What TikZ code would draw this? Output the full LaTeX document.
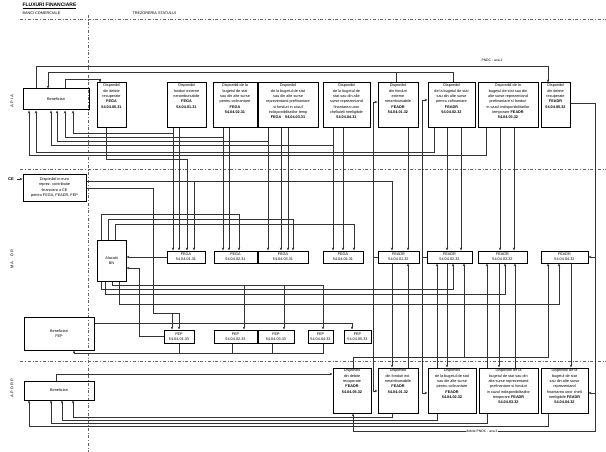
\documentclass[tikz,border=0pt]{standalone}
\usepackage{fontspec}
\setmainfont{Liberation Sans}
\usetikzlibrary{arrows.meta,calc}

\tikzset{
  cont/.style={draw,line width=1pt,inner sep=0pt},
  mic/.style={font=\fontsize{3.8}{5.3}\selectfont,align=center,inner sep=1.5pt},
  cod/.style={font=\fontsize{3.8}{4.8}\selectfont,align=center},
  flux/.style={line width=.6pt,black!80},
  sep/.style={line width=.5pt,black!60,dash dot},
}

\begin{document}
\begin{tikzpicture}[x=1pt,y=-1pt,>={Stealth[length=3pt,width=2.4pt]}]
\useasboundingbox (0,0) rectangle (606,452);

% titluri
\node[anchor=west,font=\fontsize{5}{6}\selectfont\bfseries] (tit) at (19,6) {\underline{FLUXURI FINANCIARE}};
\node[anchor=west,font=\fontsize{3.8}{5}\selectfont] (bc) at (19,13) {BANCI COMERCIALE};
\node[anchor=west,font=\fontsize{3.8}{5}\selectfont] (ts) at (129,13) {TREZORERIA STATULUI};
\draw[sep] (20,19) -- (606,19);
\draw[sep] (88,15) -- (88,452);
\draw[sep] (20,169) -- (606,169);
\draw[sep] (20,361) -- (606,361);
\node[rotate=90,font=\fontsize{4}{5}\selectfont\bfseries,black!70] (lapia) at (12,101) {A P I A};
\node[rotate=90,font=\fontsize{4}{5}\selectfont\bfseries,black!70] (lmadr) at (12,259) {M A \quad D R};
\node[rotate=90,font=\fontsize{4}{5}\selectfont\bfseries,black!70] (lapdrp) at (12,388) {A P D R P};

% APIA
\node[cont,minimum width=66,minimum height=21,mic] (ben1) at (56,99.5) {Beneficiari};
\node[cont,minimum width=29,minimum height=45] (a1) at (111.5,105.5) {};
\node[mic,below] at (a1.north) {Disponibil\\din debite\\recuperate\\\textbf{FEGA}\\\textbf{54.04.05.31}};
\node[cont,minimum width=39,minimum height=45] (a2) at (186.5,105.5) {};
\node[mic,below] at (a2.north) {Disponibil\\fonduri externe\\nerambursabile\\\textbf{FEGA}\\\textbf{54.04.01.31}};
\node[cont,minimum width=44,minimum height=45] (a3) at (235,105.5) {};
\node[mic,below] at (a3.north) {Disponibil de la\\bugetul de stat\\sau din alte surse\\pentru cofinantare\\\textbf{FEGA}\\\textbf{54.04.02.31}};
\node[cont,minimum width=60,minimum height=45] (a4) at (288,105.5) {};
\node[mic,below] at (a4.north) {Disponibil\\de la bugetul de stat\\sau din alte surse\\reprezentand prefinantare\\si fonduri in cazul\\indisponibilitatilor temp\\\textbf{FEGA}\quad\textbf{54.04.03.31}};
\node[cont,minimum width=47,minimum height=45] (a5) at (346.5,105.5) {};
\node[mic,below] at (a5.north) {Disponibil\\de la bugetul de\\stat sau din alte\\surse reprezentand\\finantarea unor\\cheltuieli neeligibile\\\textbf{54.04.04.31}};
\node[cont,minimum width=40,minimum height=45] (a6) at (398,105.5) {};
\node[mic,below] at (a6.north) {Disponibil\\din fonduri\\externe\\nerambursabile\\\textbf{FEADR}\\\textbf{54.04.01.32}};
\node[cont,minimum width=47,minimum height=45] (a7) at (451.5,105.5) {};
\node[mic,below] at (a7.north) {Disponibil\\de la bugetul de stat\\sau din alte surse\\pentru cofinantare\\\textbf{FEADR}\\\textbf{54.04.02.32}};
\node[cont,minimum width=60,minimum height=45] (a8) at (508,105.5) {};
\node[mic,below] at (a8.north) {Disponibil de la\\bugetul de stat sau din\\alte surse reprezentand\\prefinantare si fonduri\\in cazul indisponibilitatilor\\temporare \textbf{FEADR}\\\textbf{54.04.03.32}};
\node[cont,minimum width=29,minimum height=45] (a9) at (555.5,105.5) {};
\node[mic,below] at (a9.north) {Disponibil\\din debite\\recuperate\\\textbf{FEADR}\\\textbf{54.04.05.32}};

% MADR
\node[font=\fontsize{4}{5}\selectfont\bfseries] (ce) at (11,179) {CE};
\node[cont,minimum width=63,minimum height=27,mic] (disp) at (54.5,187.5) {Disponibil in euro\\reprez. contributie\\financiara a CE\\pentru FEGA, FEADR, FEP};
\node[cont,minimum width=29,minimum height=41,mic] (bn) at (111.5,260.5) {Alocatii\\BN};
\node[cont,minimum width=38,minimum height=12,cod] (g1) at (186,257) {FEGA\\54.04.01.31};
\node[cont,minimum width=43,minimum height=12,cod] (g2) at (235.5,257) {FEGA\\54.04.02.31};
\node[cont,minimum width=50,minimum height=12,cod] (g3) at (283,257) {FEGA\\54.04.03.31};
\node[cont,minimum width=40,minimum height=12,cod] (g4) at (343,257) {FEGA\\54.04.04.31};
\node[cont,minimum width=41,minimum height=12,cod] (f1) at (398.5,257) {FEADR\\54.04.01.32};
\node[cont,minimum width=45,minimum height=12,cod] (f2) at (449.5,257) {FEADR\\54.04.02.32};
\node[cont,minimum width=49,minimum height=12,cod] (f3) at (502.5,257) {FEADR\\54.04.03.32};
\node[cont,minimum width=47,minimum height=12,cod] (f4) at (564.5,257) {FEADR\\54.04.04.32};

% FEP
\node[cont,minimum width=70,minimum height=33,mic] (benfep) at (59,333.5) {Beneficiari\\FEP};
\node[cont,minimum width=30,minimum height=13,cod] (p1f) at (179,336.5) {FEP\\54.04.01.33};
\node[cont,minimum width=43,minimum height=13,cod] (p2f) at (235.5,336.5) {FEP\\54.04.02.33};
\node[cont,minimum width=36,minimum height=13,cod] (p3f) at (276,336.5) {FEP\\54.04.03.33};
\node[cont,minimum width=25,minimum height=13,cod] (p4f) at (320.5,336.5) {FEP\\54.04.04.33};
\node[cont,minimum width=27,minimum height=13,cod] (p5f) at (357.5,336.5) {FEP\\54.04.05.33};

% APDRP
\node[cont,minimum width=70,minimum height=19,mic] (ben3) at (59,390.5) {Beneficiari};
\node[cont,minimum width=38,minimum height=45] (d1) at (352,390.5) {};
\node[mic,below] at (d1.north) {Disponibil\\din debite\\recuperate\\\textbf{FEADR}\\\textbf{54.04.05.32}};
\node[cont,minimum width=40,minimum height=45] (d2) at (398,390.5) {};
\node[mic,below] at (d2.north) {Disponibil\\din fonduri ext.\\nerambursabile\\\textbf{FEADR}\\\textbf{54.04.01.32}};
\node[cont,minimum width=48,minimum height=45] (d3) at (452,390.5) {};
\node[mic,below] at (d3.north) {Disponibil\\de la bugetul de stat\\sau din alte surse\\pentru cofinantare\\\textbf{FEADR}\\\textbf{54.04.02.32}};
\node[cont,minimum width=59,minimum height=45] (d4) at (508.5,390.5) {};
\node[mic,below] at (d4.north) {Disponibil de la\\bugetul de stat sau din\\alte surse reprezentand\\prefinantare si fonduri\\in cazul indisponibilitatilor\\temporare \textbf{FEADR}\\\textbf{54.04.03.32}};
\node[cont,minimum width=47,minimum height=45] (d5) at (564.5,390.5) {};
\node[mic,below] at (d5.north) {Disponibil de la\\bugetul de stat\\sau din alte surse\\reprezentand\\finantarea unor chelt\\neeligibile \textbf{FEADR}\\\textbf{54.04.04.32}};

% fluxuri APIA
\draw[flux,->] (ben1.north -| 36,0) |- (548,66) -- (a9.north -| 548,0);
\node[font=\fontsize{3.4}{4}\selectfont] (pndc) at (492,60) {PNDC - axa 2};
\draw[flux,->] (a7.north -| 453,0) |- (48,72) -- (ben1.north -| 48,0);
\draw[flux] (a6.north -| 396,0) -- (396,72);
\draw[flux,->] (ben1.north -| 65,0) |- (100,79) -- (a1.north -| 100,0);
\draw[flux,->] (a2.south -| 173,0) -- (g1.north -| 173,0);
\draw[flux,->] (a2.south -| 179,0) -- (g1.north -| 179,0);
\draw[flux,->] (a3.south -| 223,0) -- (g2.north -| 223,0);
\draw[flux,->] (a3.south -| 229,0) -- (g2.north -| 229,0);
\draw[flux,->] (a4.south -| 268,0) -- (g3.north -| 268,0);
\draw[flux,->] (a4.south -| 281,0) -- (g3.north -| 281,0);
\draw[flux,->] (a4.south -| 288,0) -- (g3.north -| 288,0);
\draw[flux,->] (a5.south -| 333,0) -- (g4.north -| 333,0);
\draw[flux,->] (a5.south -| 343,0) -- (g4.north -| 343,0);
\draw[flux,->] (a6.south -| 408,0) -- (f1.north -| 408,0);
\draw[flux,->] (a7.south -| 447,0) -- (f2.north -| 447,0);
\draw[flux,->] (a7.south -| 461,0) -- (f2.north -| 461,0);
\draw[flux,->] (a8.south -| 500,0) -- (f3.north -| 500,0);
\draw[flux,->] (a8.south -| 514,0) -- (f3.north -| 514,0);
\draw[flux,->] (a2.south -| 173,0) ++(0,5) -| (ben1.south -| 73,0);
\draw[flux,->] (a3.south -| 223,0) ++(0,9) -| (ben1.south -| 65,0);
\draw[flux,->] (a4.south -| 268,0) ++(0,13) -| (ben1.south -| 57,0);
\draw[flux,->] (a5.south -| 333,0) ++(0,17) -| (ben1.south -| 51,0);
\draw[flux,->] (a7.south -| 434,0) -- ++(0,24) -| (ben1.south -| 36,0);
\draw[flux,->] (a8.south -| 486,0) -- ++(0,27) -| (ben1.south -| 29,0);
\draw[flux,->] (a1.south -| 106,0) |- (187,159) -- (g1.north -| 187,0);

% fluxuri MADR
\draw[flux,->] (ce) -- (disp.west |- ce);
\draw[flux,->] (disp.east |- 0,181) -| (f1.north -| 392,0);
\draw[flux,->] (194,181) -- (g1.north -| 194,0);
\draw[flux,->] (disp.east |- 0,188) -| (153,313) -| (p1f.north -| 172,0);
\draw[flux,->] (153,313) -| (p1f.north -| 179,0);
\draw[flux,->] (bn.north -| 101,0) |- (239,214) -- (g2.north -| 239,0);
\draw[flux,->] (bn.north -| 108,0) |- (293,219) -- (g3.north -| 293,0);
\draw[flux,->] (bn.north -| 115,0) |- (354,224) -- (g4.north -| 354,0);
\draw[flux,->] (g1.west) -- (bn.east |- g1.west);
\draw[flux,->] (p1f.west) -| (139,268) -- (bn.east |- 0,268);
\draw[flux,->] (bn.south -| 101,0) |- (453,289) -- (f2.south -| 453,0);
\draw[flux,->] (bn.south -| 105,0) |- (505,294) -- (f3.south -| 505,0);
\draw[flux,->] (bn.south -| 119,0) |- (559,304) -- (f4.south -| 559,0);
\draw[flux,->] (bn.south -| 112,0) |- (323,285) -- (p4f.north -| 323,0);
\draw[flux,->] (244,285) -- (p2f.north -| 244,0);
\draw[flux,->] (284,285) -- (p3f.north -| 284,0);
\draw[flux,->] (f1.west) -- ++(-4,0) |- (a6.west |- 0,102);
\draw[flux,->] (f1.west) -- ++(-4,0) |- (d2.west |- 0,391);
\draw[flux,->] (f2.west) -- ++(-4,0) |- (a7.west |- 0,100);
\draw[flux,->] (f2.west) -- ++(-4,0) |- (d3.west |- 0,393);

% fluxuri FEP
\draw[flux,->] (benfep.east |- 0,323) -| (p5f.north -| 352,0);
\draw[flux,->] (p4f.south -| 323,0) |- (74,353) -- (benfep.south -| 74,0);
\draw[flux] (p1f.south -| 179,0) -- (179,353);
\draw[flux] (p2f.south -| 232,0) -- (232,353);
\draw[flux] (p3f.south -| 272,0) -- (272,353);

% fluxuri APDRP
\draw[flux,->] (f1.south -| 392,0) -- (d2.north -| 392,0);
\draw[flux,->] (d2.north -| 408,0) -- (f1.south -| 408,0);
\draw[flux,->] (f2.south -| 447,0) -- (d3.north -| 447,0);
\draw[flux,->] (d3.north -| 437,0) -- (f2.south -| 437,0);
\draw[flux,->] (f3.south -| 499,0) -- (d4.north -| 499,0);
\draw[flux,->] (d4.north -| 487,0) -- (f3.south -| 487,0);
\draw[flux,->] (d4.north -| 515,0) -- (f3.south -| 515,0);
\draw[flux,->] (f4.south -| 571,0) -- (d5.north -| 571,0);
\draw[flux,->] (d1.north -| 353,0) |- (548,357) -- (f4.south -| 548,0);
\draw[flux,->] (464,357) -- (f2.south -| 464,0);
\draw[flux,->] (a9.east |- 0,103) -| (595,431) -| (d1.south -| 353,0);
\draw[flux,->] (595,257) -- (f4.east);
\draw[flux,->] (595,393) -- (d5.east |- 0,393);
\node[font=\fontsize{3.4}{4}\selectfont,fill=white,inner sep=.6pt] (deb) at (482,431) {debite PNDC - axa 2};
\draw[flux,->] (d2.south -| 392,0) |- (73,417) -- (ben3.south -| 73,0);
\draw[flux,->] (d3.south -| 437,0) |- (62,420) -- (ben3.south -| 62,0);
\draw[flux,->] (d4.south -| 487,0) |- (51,423) -- (ben3.south -| 51,0);
\draw[flux,->] (d5.south -| 548,0) |- (29,426) -- (ben3.south -| 29,0);
\draw[flux,->] (ben3.north -| 56,0) |- (d1.west |- 0,374);
\end{tikzpicture}
\end{document}
